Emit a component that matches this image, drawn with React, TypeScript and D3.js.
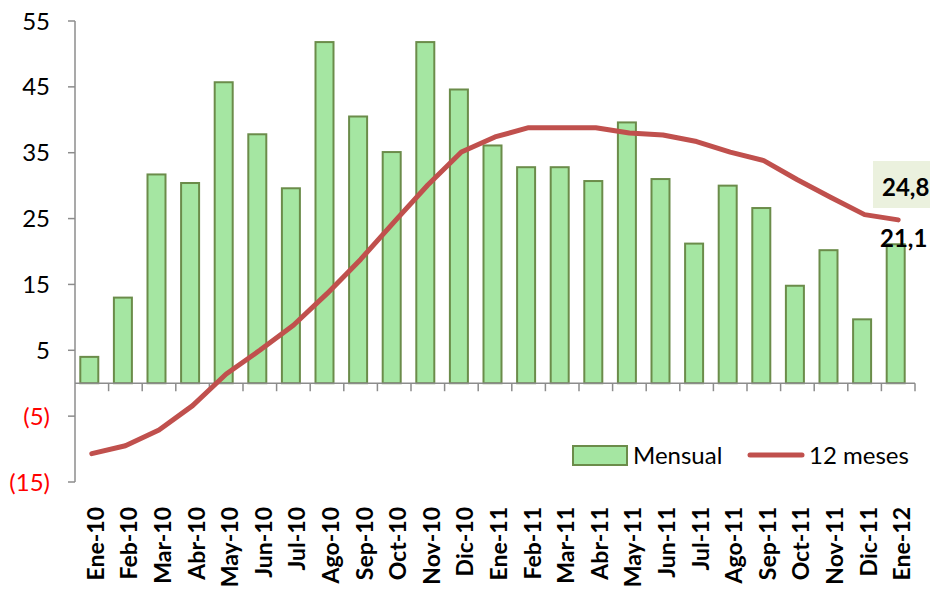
import React from "react";
import * as d3 from "d3";

const categories = ["Ene-10","Feb-10","Mar-10","Abr-10","May-10","Jun-10","Jul-10","Ago-10","Sep-10","Oct-10","Nov-10","Dic-10","Ene-11","Feb-11","Mar-11","Abr-11","May-11","Jun-11","Jul-11","Ago-11","Sep-11","Oct-11","Nov-11","Dic-11","Ene-12"];
const mensual = [4.0, 13.0, 31.7, 30.4, 45.7, 37.8, 29.6, 51.8, 40.5, 35.1, 51.8, 44.6, 36.1, 32.8, 32.8, 30.7, 39.6, 31.0, 21.2, 30.0, 26.6, 14.8, 20.2, 9.7, 21.1];
const doceMeses = [-10.7, -9.5, -7.1, -3.4, 1.4, 5.0, 8.8, 13.6, 18.8, 24.5, 30.1, 35.1, 37.4, 38.8, 38.8, 38.8, 38.0, 37.7, 36.7, 35.1, 33.8, 30.9, 28.2, 25.6, 24.8];
const yTicks = [55, 45, 35, 25, 15, 5, -5, -15];
const seriesNames = ["Mensual", "12 meses"];
const lastLineLabel = "24,8";
const lastBarLabel = "21,1";

const BAR_FILL = "#a5e6a2";
const BAR_STROKE = "#6b8c4a";
const LINE = "#c0504d";
const AXIS = "#8c8c8c";
const FONT = "Lato, 'Open Sans', sans-serif";

export default function App() {
  const W = 930, H = 591;
  const x = d3.scaleBand<string>().domain(categories).range([75, 915]).padding(0);
  const y = d3.scaleLinear().domain([-15, 55]).range([482, 21]);
  const bw = x.bandwidth();
  const cx = (c: string) => (x(c) as number) + bw / 2;
  const barW = 18;
  const line = d3.line<number>().x((_, i) => cx(categories[i])).y((d) => y(d));
  const fmt = (v: number) => (v < 0 ? `(${Math.abs(v)})` : `${v}`);
  const boundaries = d3.range(categories.length + 1).map((i) => 75 + i * bw);

  return (
    <svg width={W} height={H} style={{ position: "absolute", left: 0, top: 0, background: "#fff" }} fontFamily={FONT}>
      {/* y axis */}
      <line x1={75} x2={75} y1={y(55)} y2={y(-15)} stroke={AXIS} strokeWidth={1.5} />
      {yTicks.map((t) => (
        <g key={t}>
          <line x1={68} x2={75} y1={y(t)} y2={y(t)} stroke={AXIS} strokeWidth={1.5} />
          <text x={50} y={y(t)} dy="0.36em" textAnchor="end" fontSize={24} fill={t < 0 ? "#ff0000" : "#000"}>{fmt(t)}</text>
        </g>
      ))}
      {/* bars */}
      {categories.map((c, i) => (
        <rect key={c} x={cx(c) - 2.5 - barW / 2} y={y(mensual[i])} width={barW} height={y(0) - y(mensual[i])}
          fill={BAR_FILL} stroke={BAR_STROKE} strokeWidth={2} />
      ))}
      {/* x axis */}
      <line x1={75} x2={915} y1={y(0)} y2={y(0)} stroke={AXIS} strokeWidth={1.5} />
      {boundaries.slice(1).map((b, i) => (
        <line key={i} x1={b} x2={b} y1={y(0)} y2={y(0) + 8} stroke={AXIS} strokeWidth={1.5} />
      ))}
      {/* line */}
      <path d={line(doceMeses) || ""} fill="none" stroke={LINE} strokeWidth={5} strokeLinejoin="round" strokeLinecap="round" />
      {/* x labels */}
      {categories.map((c) => (
        <text key={c} transform={`translate(${cx(c) + 12},507) rotate(-90)`} textAnchor="end" fontSize={23} fontWeight="bold" fill="#000">{c}</text>
      ))}
      {/* annotations */}
      <rect x={873} y={161} width={57} height={47} fill="#ebf1de" />
      <text x={882} y={196} fontSize={24} fontWeight="bold" fill="#000">{lastLineLabel}</text>
      <text x={880} y={247} fontSize={24} fontWeight="bold" fill="#000">{lastBarLabel}</text>
      {/* legend */}
      <rect x={573} y={446} width={54} height={19} fill={BAR_FILL} stroke={BAR_STROKE} strokeWidth={2} />
      <text x={633} y={464} fontSize={24} fill="#000">{seriesNames[0]}</text>
      <line x1={750} x2={802} y1={455} y2={455} stroke={LINE} strokeWidth={5} strokeLinecap="round" />
      <text x={809} y={464} fontSize={24} fill="#000">{seriesNames[1]}</text>
    </svg>
  );
}
